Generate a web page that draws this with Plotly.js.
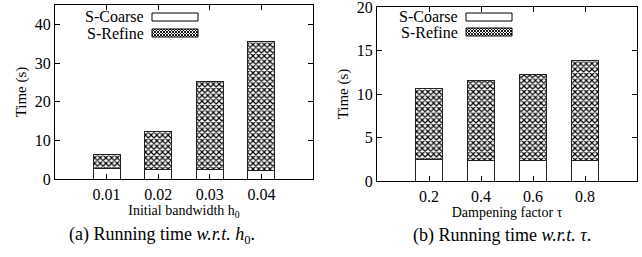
<!DOCTYPE html>
<html><head><meta charset="utf-8">
<script src="https://cdn.plot.ly/plotly-3.0.1.min.js"></script>
<style>html,body{margin:0;padding:0;background:#fff}</style>
</head><body>
<div id="chart" style="width:642px;height:257px"></div>
<script>
// Data
const catsA = ['0.01', '0.02', '0.03', '0.04'];
const coarseA = [2.8, 2.35, 2.5, 2.3];
const refineA = [3.6, 10.05, 22.7, 33.2];
const catsB = ['0.2', '0.4', '0.6', '0.8'];
const coarseB = [2.5, 2.4, 2.4, 2.4];
const refineB = [8.15, 9.1, 9.85, 11.5];
const seriesNames = ['S-Coarse', 'S-Refine'];

const FONT = 'Liberation Serif';
const barW = 0.52;
const lineStyle = {color: '#222', width: 1};
const pat = {shape: 'x', fgcolor: '#000', bgcolor: '#fff', size: 4, solidity: 0.5};

const traces = [
  {type: 'bar', x: catsA, y: coarseA, name: seriesNames[0], width: barW, xaxis: 'x', yaxis: 'y',
   marker: {color: '#fff', line: lineStyle}, showlegend: false},
  {type: 'bar', x: catsA, y: refineA, name: seriesNames[1], width: barW, xaxis: 'x', yaxis: 'y',
   marker: {color: '#fff', line: lineStyle, pattern: pat}, showlegend: false},
  {type: 'bar', x: catsB, y: coarseB, name: seriesNames[0], width: barW, xaxis: 'x2', yaxis: 'y2',
   marker: {color: '#fff', line: lineStyle}, showlegend: false},
  {type: 'bar', x: catsB, y: refineB, name: seriesNames[1], width: barW, xaxis: 'x2', yaxis: 'y2',
   marker: {color: '#fff', line: lineStyle, pattern: pat}, showlegend: false}
];

function axisBase() {
  return {showline: true, linecolor: '#000', linewidth: 1, mirror: 'allticks',
    ticks: 'inside', ticklen: 5, tickcolor: '#000', showgrid: false, zeroline: false,
    ticklabeloverflow: 'allow',
    tickfont: {family: FONT, size: 16, color: '#000'}};
}
const W = 642, H = 257;
function px(x) { return x / W; }
function py(y) { return 1 - y / H; }

const xa = Object.assign(axisBase(), {domain: [px(55), px(313)], anchor: 'y', type: 'category', range: [-1, 4],
  ticklabelstandoff: 1,
  title: {text: 'Initial bandwidth h<sub>0</sub>', font: {family: FONT, size: 14, color: '#000'}, standoff: 0}});
const ya = Object.assign(axisBase(), {domain: [py(179), py(5)], anchor: 'x', range: [0, 45], tickvals: [0, 10, 20, 30, 40],
  title: {text: 'Time (s)', font: {family: FONT, size: 15, color: '#000'}, standoff: 4}});
const xb = Object.assign(axisBase(), {domain: [px(377), px(637)], anchor: 'y2', type: 'category', range: [-1, 4],
  ticklabelstandoff: 1,
  title: {text: 'Dampening factor τ', font: {family: FONT, size: 14, color: '#000'}, standoff: 0}});
const yb = Object.assign(axisBase(), {domain: [py(181), py(7)], anchor: 'x2', range: [0, 20], tickvals: [0, 5, 10, 15, 20],
  title: {text: 'Time (s)', font: {family: FONT, size: 15, color: '#000'}, standoff: 4}});

const patSvg = "data:image/svg+xml;utf8," + encodeURIComponent(
  "<svg xmlns='http://www.w3.org/2000/svg' width='46' height='8'><defs><pattern id='p' width='3' height='3' patternUnits='userSpaceOnUse'><path d='M0,0L3,3M3,0L0,3' stroke='black' stroke-width='0.9'/></pattern></defs><rect width='46' height='8' fill='white'/><rect width='46' height='8' fill='url(#p)'/></svg>");

function legendBits(textRight, swX0, swX1, yC, yR) {
  const anns = [
    {xref: 'paper', yref: 'paper', x: px(textRight), y: py(yC), xanchor: 'right', yanchor: 'middle',
     text: seriesNames[0], showarrow: false, font: {family: FONT, size: 16, color: '#000'}},
    {xref: 'paper', yref: 'paper', x: px(textRight), y: py(yR), xanchor: 'right', yanchor: 'middle',
     text: seriesNames[1], showarrow: false, font: {family: FONT, size: 16, color: '#000'}}
  ];
  const shapes = [
    {type: 'rect', xref: 'paper', yref: 'paper', x0: px(swX0), x1: px(swX1), y0: py(yC - 4), y1: py(yC + 4),
     line: {color: '#000', width: 1}, fillcolor: '#fff'},
    {type: 'rect', xref: 'paper', yref: 'paper', x0: px(swX0), x1: px(swX1), y0: py(yR - 4), y1: py(yR + 4),
     line: {color: '#000', width: 1}, layer: 'above'}
  ];
  const imgs = [
    {source: patSvg, xref: 'paper', yref: 'paper', x: px(swX0), y: py(yR - 4), sizex: px(swX1) - px(swX0),
     sizey: 8 / H, sizing: 'stretch', xanchor: 'left', yanchor: 'top', layer: 'above'}
  ];
  return {anns, shapes, imgs};
}
const lA = legendBits(146, 152, 198, 17, 33);
const lB = legendBits(460, 466, 512, 17, 32);

const captions = [
  {xref: 'paper', yref: 'paper', x: px(162), y: py(235), xanchor: 'center', yanchor: 'middle', showarrow: false,
   text: '(a) Running time <i>w.r.t.</i> <i>h</i><sub>0</sub>.', font: {family: FONT, size: 18, color: '#000'}},
  {xref: 'paper', yref: 'paper', x: px(502), y: py(235), xanchor: 'center', yanchor: 'middle', showarrow: false,
   text: '(b) Running time <i>w.r.t.</i> <i>τ</i>.', font: {family: FONT, size: 18, color: '#000'}}
];

const layout = {
  width: W, height: H, margin: {l: 0, r: 0, t: 0, b: 0},
  paper_bgcolor: '#fff', plot_bgcolor: '#fff', barmode: 'stack', showlegend: false,
  font: {family: FONT, color: '#000'},
  xaxis: xa, yaxis: ya, xaxis2: xb, yaxis2: yb,
  annotations: lA.anns.concat(lB.anns, captions),
  shapes: lA.shapes.concat(lB.shapes),
  images: lA.imgs.concat(lB.imgs)
};

Plotly.newPlot('chart', traces, layout, {displayModeBar: false, staticPlot: true});
</script>
</body></html>
